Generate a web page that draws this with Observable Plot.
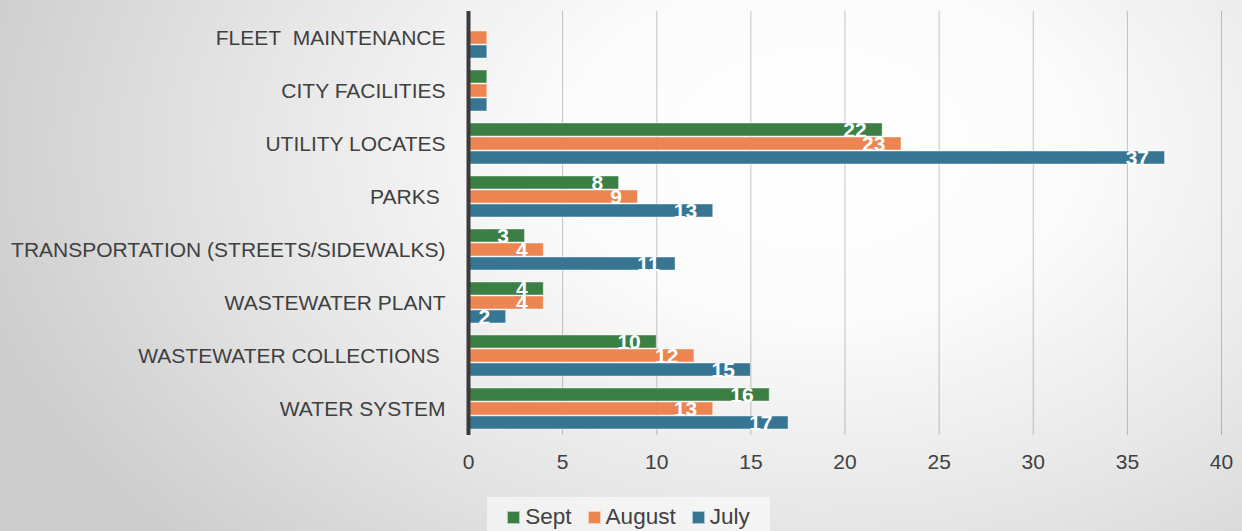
<!DOCTYPE html>
<html>
<head>
<meta charset="utf-8">
<script src="https://cdn.jsdelivr.net/npm/d3@7"></script>
<script src="https://cdn.jsdelivr.net/npm/@observablehq/plot@0.6"></script>
<style>
  html, body { margin: 0; padding: 0; }
  body {
    width: 1242px; height: 531px; overflow: hidden;
    background: radial-gradient(ellipse 70% 110% at 66% 28%, #ffffff 0%, #fbfbfb 30%, #e6e6e6 65%, #cdcdcd 100%);
    font-family: "Liberation Sans", Arial, sans-serif;
  }
  #legend {
    position: absolute; left: 487px; top: 497px; width: 283px; height: 34px;
    background: rgba(255,255,255,0.55);
    display: flex; align-items: center; justify-content: center; padding-top: 6px; box-sizing: border-box;
    font-size: 22.5px; color: #404040;
  }
  .item { display: flex; align-items: center; margin: 0 8px; }
  .sw { width: 11px; height: 11px; margin-right: 5px; border: 1px solid rgba(255,255,255,0.6); }
</style>
</head>
<body>
<div id="chart"></div>
<div id="legend"></div>
<script>
const categories = [
  "FLEET\u00a0 MAINTENANCE",
  "CITY FACILITIES",
  "UTILITY LOCATES",
  "PARKS\u00a0",
  "TRANSPORTATION (STREETS/SIDEWALKS)",
  "WASTEWATER PLANT",
  "WASTEWATER COLLECTIONS\u00a0",
  "WATER SYSTEM"
];
const series = ["Sept", "August", "July"];
const sept   = [null, 1, 22, 8, 3, 4, 10, 16];
const august = [1, 1, 23, 9, 4, 4, 12, 13];
const july   = [1, 1, 37, 13, 11, 2, 15, 17];
const colors = ["#3b7f45", "#ec8551", "#367692"];
const xTicks = [0, 5, 10, 15, 20, 25, 30, 35, 40];

const values = {Sept: sept, August: august, July: july};
const rows = [];
categories.forEach((c, i) => {
  series.forEach(s => {
    const v = values[s][i];
    if (v != null) rows.push({category: c, series: s, value: v});
  });
});

const chart = Plot.plot({
  width: 1242,
  height: 492,
  marginLeft: 468,
  marginRight: 21,
  marginTop: 11,
  marginBottom: 57,
  style: {background: "transparent", fontFamily: "'Liberation Sans', Arial, sans-serif", fontSize: "21px", color: "#404040"},
  facet: {data: rows, y: "category"},
  fy: {domain: categories, padding: 0, label: null, tickSize: 0, tickPadding: 23},
  y: {domain: series, axis: null, paddingInner: 0.07, paddingOuter: 0.36},
  x: {domain: [0, 40], ticks: xTicks, tickSize: 0, tickPadding: 19, label: null},
  color: {domain: series, range: colors},
  marks: [
    Plot.ruleX(xTicks.filter(d => d > 0), {stroke: "#000", strokeOpacity: 0.22, strokeWidth: 1}),
    Plot.barX(rows, {x: "value", y: "series", fill: "series", stroke: "#ffffff", strokeOpacity: 0.45, strokeWidth: 1}),
    Plot.text(rows, {
      filter: d => d.value > 1,
      x: "value", y: "series", text: d => String(d.value),
      textAnchor: "end", dx: -16, fill: "white", fontWeight: "bold", fontSize: 21,
      fontFamily: "'Liberation Sans', Arial, sans-serif"
    }),
    Plot.ruleX([0], {stroke: "#3a3a3a", strokeWidth: 4})
  ]
});
document.getElementById("chart").appendChild(chart);

const legend = document.getElementById("legend");
series.forEach((s, i) => {
  const it = document.createElement("div");
  it.className = "item";
  const sw = document.createElement("span");
  sw.className = "sw";
  sw.style.background = colors[i];
  const t = document.createElement("span");
  t.textContent = s;
  it.appendChild(sw); it.appendChild(t);
  legend.appendChild(it);
});
</script>
</body>
</html>
